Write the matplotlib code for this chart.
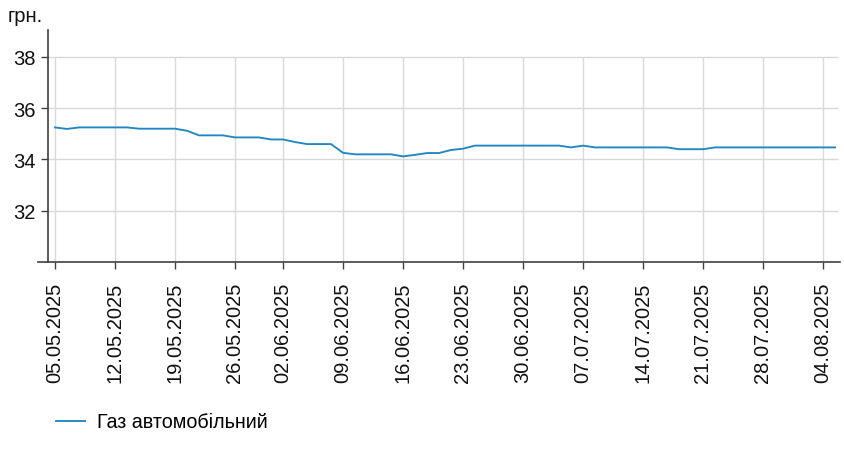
import numpy as np
import pandas as pd
import matplotlib
matplotlib.use('Agg')
import matplotlib.pyplot as plt

plt.rcParams['font.family'] = ['Liberation Sans', 'DejaVu Sans']

# -------------------------------------------------------------------------
# Data: business days 05.05.2025 - 05.08.2025 (one missing day in late May)
# -------------------------------------------------------------------------
dates = pd.bdate_range("2025-05-05", "2025-08-05")
dates = dates[dates != pd.Timestamp("2025-05-29")]

price = [
    35.25, 35.19, 35.25, 35.25, 35.25, 35.25, 35.25, 35.20, 35.20, 35.20,
    35.20, 35.12, 34.94, 34.94, 34.94, 34.86, 34.86, 34.86, 34.78, 34.78,
    34.68, 34.60, 34.60, 34.60, 34.26, 34.20, 34.20, 34.20, 34.20, 34.12,
    34.18, 34.25, 34.25, 34.37, 34.42, 34.54, 34.54, 34.54, 34.54, 34.54,
    34.54, 34.54, 34.54, 34.47, 34.54, 34.47, 34.47, 34.47, 34.47, 34.47,
    34.47, 34.47, 34.40, 34.40, 34.40, 34.47, 34.47, 34.47, 34.47, 34.47,
    34.47, 34.47, 34.47, 34.47, 34.47, 34.47,
]

tick_labels = ["05.05.2025", "12.05.2025", "19.05.2025", "26.05.2025",
               "02.06.2025", "09.06.2025", "16.06.2025", "23.06.2025",
               "30.06.2025", "07.07.2025", "14.07.2025", "21.07.2025",
               "28.07.2025", "04.08.2025"]
y_ticks = [32, 34, 36, 38]

label_strs = [d.strftime("%d.%m.%Y") for d in dates]
tick_pos = [label_strs.index(t) for t in tick_labels]
x = np.arange(len(price))

# -------------------------------------------------------------------------
# Plot
# -------------------------------------------------------------------------
fig = plt.figure(figsize=(8.45, 4.52), dpi=100)
ax = fig.add_axes([38 / 845, (452 - 263) / 452, (840 - 38) / 845, (263 - 31) / 452])

ax.set_xlim(-17 / 12, 785 / 12)
ax.set_ylim(30, 39.05)

# grid: vertical lines stop at the top tick, horizontal lines span the plot
ax.vlines(tick_pos, 30, 38, color="#d9d9d9", linewidth=1.0, zorder=0)
ax.hlines(y_ticks, -7 / 12, 783 / 12, color="#d9d9d9", linewidth=1.0, zorder=0)

ax.plot(x, price, color="#1f87c3", linewidth=1.35, label="Газ автомобільний",
        zorder=3)

ax.set_yticks(y_ticks)
ax.set_xticks(tick_pos)
ax.set_xticklabels(tick_labels, rotation=90)

for s in ["top", "right"]:
    ax.spines[s].set_visible(False)
ax.spines["left"].set_position(("data", -7 / 12))
ax.spines["left"].set_color("#404040")
ax.spines["bottom"].set_color("#404040")
ax.spines["left"].set_linewidth(1.2)
ax.spines["bottom"].set_linewidth(1.2)

ax.tick_params(axis="both", direction="out", length=5, width=1.0,
               color="#404040", labelsize=14.5, labelcolor="#111111")
ax.tick_params(axis="x", pad=9)
ax.tick_params(axis="y", pad=4)

fig.text(8 / 845, 1 - 22 / 452, "грн.", fontsize=14.5, color="#111111")

fig.legend(loc="center left", bbox_to_anchor=(38 / 845, 1 - 423 / 452),
           frameon=False, fontsize=14.2, handlelength=1.5, handletextpad=0.6)

plt.savefig("out.png", dpi=100)
plt.close()
